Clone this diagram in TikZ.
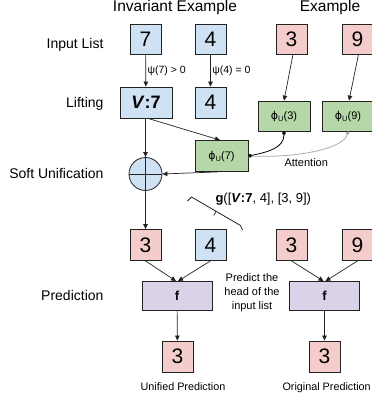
\documentclass[tikz,border=0pt]{standalone}
\usepackage{fontspec}
\setmainfont{Liberation Sans}
\newfontfamily\symfont{DejaVu Sans}
\usetikzlibrary{arrows.meta,calc}
\definecolor{cblue}{HTML}{CFE2F3}
\definecolor{cred}{HTML}{F4CCCC}
\definecolor{cgreen}{HTML}{B6D7A8}
\definecolor{cpurple}{HTML}{D9D2E9}
\definecolor{edge}{HTML}{222222}
\definecolor{attgray}{HTML}{AAAAAA}
\newcommand\subU{\raisebox{-0.35ex}{\fontsize{7.5}{8}\selectfont U}}
\newcommand\phiU{{\symfont ϕ}\subU}
\newcommand\fsz[1]{\fontsize{#1}{#1}\selectfont}
\begin{document}
\begin{tikzpicture}[x={(1pt,0pt)},y={(0pt,-1pt)},
  cell/.style={draw=edge, line width=0.8pt, minimum width=31pt, minimum height=30pt,
    inner sep=0pt, font=\fsz{21}},
  bluecell/.style={cell, fill=cblue},
  redcell/.style={cell, fill=cred},
  greencell/.style={cell, fill=cgreen, minimum width=52pt, font=\fsz{11}},
  fbox/.style={cell, fill=cpurple, minimum width=70pt, minimum height=29pt, font=\bfseries\fsz{13}},
  rowlabel/.style={anchor=base east, font=\fsz{14}},
  small/.style={font=\fsz{10.5}},
  arr/.style={draw=edge, line width=0.7pt, -{Triangle[length=5pt,width=4.5pt]}},
  att/.style={line width=0.8pt, {Circle[length=3.5pt]}-{Circle[length=3.5pt]}},
]
\useasboundingbox (0,0) rectangle (372,397);

% column headings
\node[anchor=base, font=\fsz{15.5}] (ttlinv) at (175,11.8) {Invariant Example};
\node[anchor=base, font=\fsz{15.5}] (ttlex) at (330,11.8) {Example};

% row labels
\node[rowlabel] (lblin) at (107,48) {Input List};
\node[rowlabel] (lbllift) at (107,107) {Lifting};
\node[rowlabel] (lblsoft) at (107,178) {Soft Unification};
\node[rowlabel] (lblpred) at (107,300) {Prediction};

% input lists
\node[bluecell] (in7) at (145.5,39) {7};
\node[bluecell] (in4) at (210.5,39) {4};
\node[redcell] (in3) at (291.5,39) {3};
\node[redcell] (in9) at (357.5,39) {9};

% lifting
\node[bluecell, minimum width=52pt, minimum height=31pt, font=\bfseries\fsz{18}] (lift7) at (146,102.5) {\textit{V}:7};
\node[bluecell, minimum height=31pt] (lift4) at (210.5,102.5) {4};
\node[greencell] (phi3) at (284,116) {\phiU(3)};
\node[greencell] (phi9) at (348,116) {\phiU(9)};
\node[greencell, minimum width=53pt, minimum height=31pt] (phi7) at (221.5,156) {\phiU(7)};

\draw[arr] (in7) -- (lift7) node[pos=0.5, anchor=west, small, inner sep=1.5pt] (psi7) {ψ(7) > 0};
\draw[arr] (in4) -- (lift4) node[pos=0.5, anchor=west, small, inner sep=1.5pt] (psi4) {ψ(4) = 0};
\draw[arr] ([xshift=1.5pt]in3.south) -- (phi3.north);
\draw[arr] ([xshift=1pt]in9.south) -- ([xshift=1pt]phi9.north);

% soft unification
\node[circle, draw=edge, line width=0.8pt, fill=cblue, minimum size=33pt, inner sep=0pt] (unify) at (145.5,174) {};
\draw[edge, line width=0.8pt] (unify.north) -- (unify.south) (unify.west) -- (unify.east);

\draw[arr] ([xshift=-0.5pt]lift7.south) -- (unify.north);
\draw[arr] ([xshift=2pt]lift7.south) -- ([xshift=-1.5pt]phi7.north);
\draw[arr] ([xshift=-4pt]phi7.south) -- (unify.east);

% attention
\draw[att, attgray] (phi9.south) .. controls (344,148) and (300,158) .. (phi7.east);
\draw[att, black] (phi3.south) .. controls (284,148) and (268,152) .. (phi7.east);
\node[anchor=base west, font=\fsz{11}] (attn) at (281,166) {Attention};

% unified list and bracket
\node[redcell, minimum height=31pt] (u3) at (145.5,245) {3};
\node[bluecell, minimum height=31pt] (u4) at (210.5,245) {4};
\node[redcell, minimum height=31pt] (o3) at (291.5,245) {3};
\node[redcell, minimum height=31pt] (o9) at (357.5,245) {9};
\draw[arr] (unify.south) -- (u3.north);

\coordinate (brA) at (191.5,197);
\coordinate (brB) at (240.5,225.5);
\draw[edge, line width=0.8pt, line join=round]
  (187.5,201) -- (brA) -- (brB) -- (242.5,230);
\draw[edge, line width=0.8pt] ($(brA)!0.5!(brB)$) -- ++(-2,4);
\node[anchor=base west, font=\fsz{13}] (glabel) at (212,202)
  {\textbf{g}([\textbf{\textit{V}:7}, 4], [3, 9])};

% prediction
\node[fbox] (f1) at (177,296) {f};
\node[fbox] (f2) at (324.5,296) {f};
\draw[arr] (u3.south) -- ([xshift=-1pt]f1.north);
\draw[arr] (u4.south) -- ([xshift=1pt]f1.north);
\draw[arr] (o3.south) -- ([xshift=-1pt]f2.north);
\draw[arr] (o9.south) -- ([xshift=1pt]f2.north);
\node[align=center, font=\fontsize{11}{14}\selectfont] (predtxt) at (252,293)
  {Predict the\\head of the\\input list};

\node[redcell, minimum height=31pt] (r1) at (177.5,356.5) {3};
\node[redcell, minimum height=31pt] (r2) at (324.5,356.5) {3};
\draw[arr] (f1) -- (r1);
\draw[arr] (f2) -- (r2);

\node[anchor=base, font=\fsz{10.8}] (capu) at (183,390) {Unified Prediction};
\node[anchor=base west, font=\fsz{10.8}] (capo) at (279,390) {Original Prediction};
\end{tikzpicture}
\end{document}
